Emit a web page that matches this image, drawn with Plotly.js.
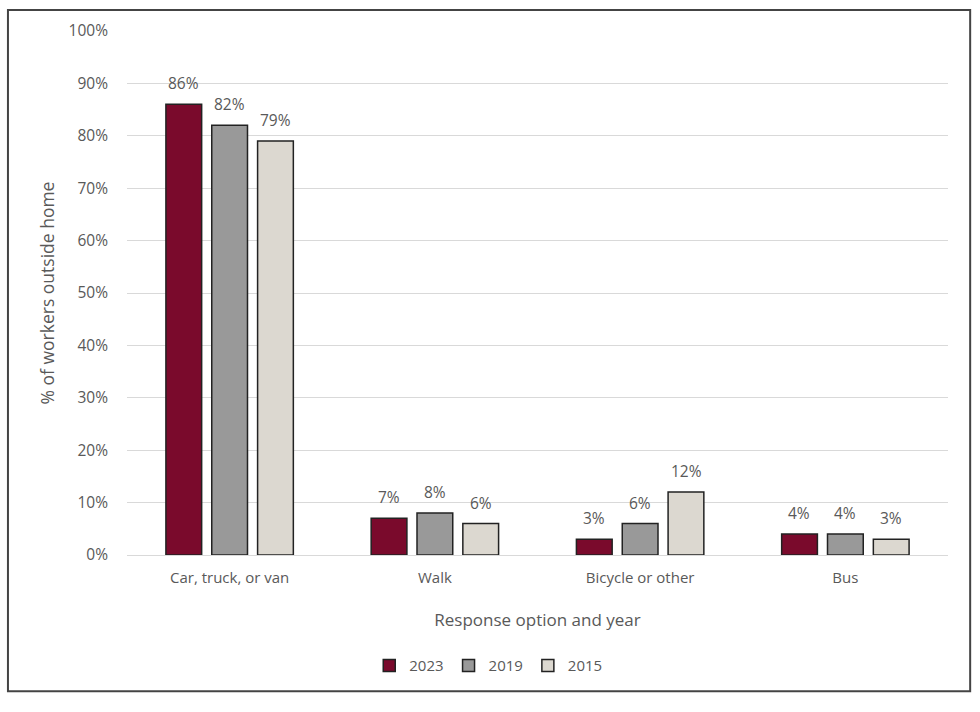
<!DOCTYPE html>
<html>
<head>
<meta charset="utf-8">
<script src="https://cdn.plot.ly/plotly-3.0.1.min.js"></script>
<style>
  html, body { margin: 0; padding: 0; background: #fff; }
  #chart { width: 980px; height: 712px; }
</style>
</head>
<body>
<div id="chart"></div>
<script>
// data
var categories = ['Car, truck, or van', 'Walk', 'Bicycle or other', 'Bus'];
var years = ['2023', '2019', '2015'];
var share2023 = [86, 7, 3, 4];
var share2019 = [82, 8, 6, 4];
var share2015 = [79, 6, 12, 3];
var yTicks = [0, 10, 20, 30, 40, 50, 60, 70, 80, 90, 100];

var colors = ['#7a0a2c', '#999999', '#dcd8d0'];
var series = [share2023, share2019, share2015];
var slotShift = [-46, 0, 46];   // pixel offset of each bar inside its group

var traces = series.map(function (vals, i) {
    return {
        type: 'bar',
        name: years[i],
        x: categories,
        y: vals,
        marker: { color: colors[i], line: { color: '#222', width: 1.5 } },
        hoverinfo: 'x+y+name'
    };
});

// value labels above the bars
var annotations = [];
series.forEach(function (vals, i) {
    vals.forEach(function (v, j) {
        annotations.push({
            x: categories[j], y: v, xref: 'x', yref: 'y',
            text: v + '%', showarrow: false,
            xshift: slotShift[i], yshift: 8, yanchor: 'bottom',
            font: { size: 15.5, color: '#595959' }
        });
    });
});

var layout = {
    width: 980,
    height: 712,
    margin: { l: 127, r: 32, t: 31, b: 157 },
    font: { family: 'Open Sans, Liberation Sans, Arial, sans-serif', color: '#595959', size: 14 },
    paper_bgcolor: '#fff',
    plot_bgcolor: '#fff',
    barmode: 'group',
    bargap: 0.33,
    bargroupgap: 0.22,
    showlegend: true,
    legend: {
        orientation: 'h',
        x: 0.44, xanchor: 'center',
        y: -0.18, yanchor: 'top',
        bgcolor: 'rgba(0,0,0,0)',
        font: { size: 15, color: '#595959' },
        itemwidth: 30
    },
    xaxis: {
        title: { text: 'Response option and year', font: { size: 17, color: '#595959' }, standoff: 28 },
        tickfont: { size: 15, color: '#595959' },
        ticklabelstandoff: 9,
        showline: true, linecolor: '#d9d9d9', linewidth: 1,
        ticks: '', showgrid: false
    },
    yaxis: {
        title: { text: '% of workers outside home', font: { size: 17.5, color: '#595959' }, standoff: 9 },
        range: [0, 100],
        tickvals: yTicks,
        ticktext: yTicks.map(function (v) { return v + '%'; }),
        tickfont: { size: 15.5, color: '#595959' },
        ticklabelstandoff: 18,
        showgrid: true, gridcolor: '#d9d9d9', gridwidth: 1,
        zeroline: false, ticks: '', showline: false
    },
    annotations: annotations,
    shapes: [{
        type: 'rect', xref: 'paper', yref: 'paper',
        x0: -0.145, x1: 1.027, y0: -0.26, y1: 1.04,
        line: { color: '#444', width: 2 }, fillcolor: 'rgba(0,0,0,0)'
    }]
};

Plotly.newPlot('chart', traces, layout, { displayModeBar: false });
</script>
</body>
</html>
